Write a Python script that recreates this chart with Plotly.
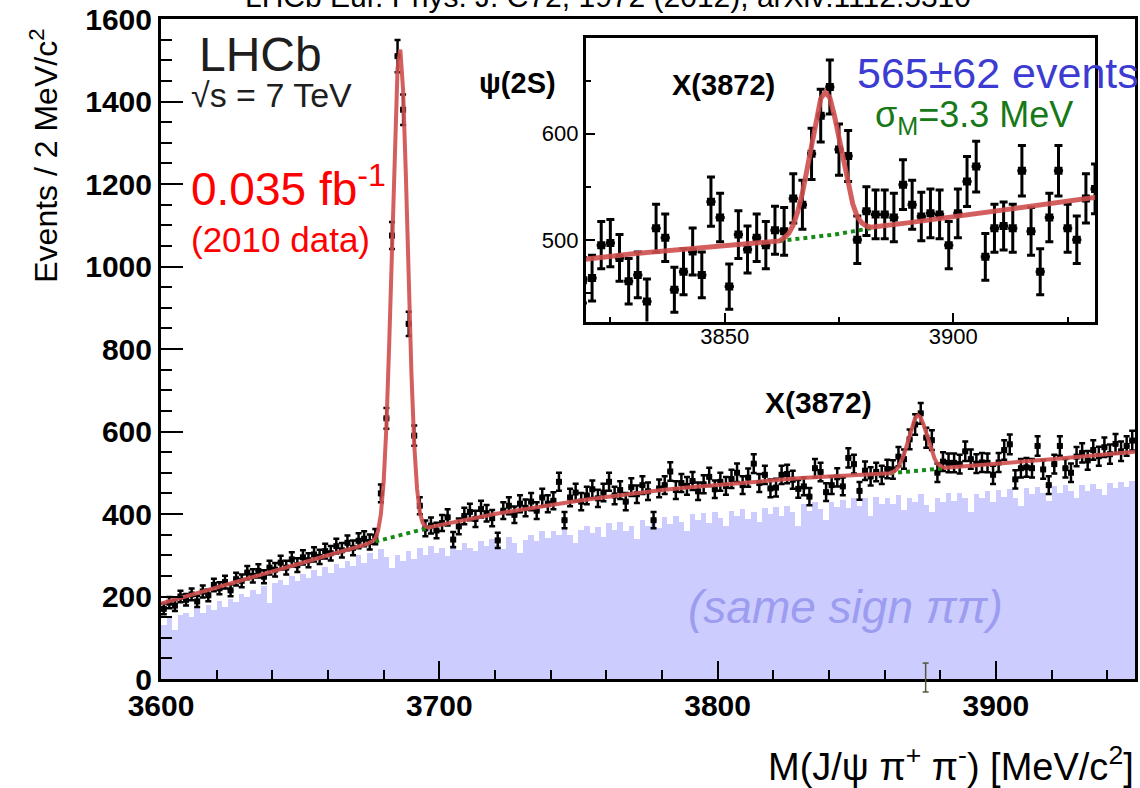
import numpy as np
import plotly.graph_objects as go

# ---------------- data ----------------
bin_centers = np.arange(3601, 3950, 2)  # 2 MeV bins, 3600-3950

data_counts = [
    170, 185, 178, 200, 192, 205, 188, 212, 203, 228, 220, 235, 215, 242, 238, 258, 250, 262, 248, 270,
    265, 282, 270, 290, 276, 295, 288, 302, 296, 310, 305, 322, 312, 330, 318, 335, 340, 332, 345,
    450, 632, 1075, 1510, 1380, 861, 590, 420, 365,
    372, 360, 378, 392, 338, 370, 395, 405, 388, 412, 402, 390, 336, 408, 420, 398, 425, 415, 430, 408,
    440, 425, 432, 478, 385, 440, 452, 430, 445, 460, 438, 452, 478, 445, 458, 430, 465, 448, 470, 455,
    385, 462, 470, 503, 458, 475, 468, 480, 455, 472, 490, 460, 478, 468, 485, 500, 470, 488, 522, 475,
    495, 462,
    464, 495, 497, 483, 461, 467, 442, 511, 502, 453, 470, 489, 467, 536, 521, 456, 505, 491, 502, 495,
    509, 508, 539, 533, 581, 617, 644, 585, 579, 500, 527, 524, 524, 521, 552, 533, 522, 525, 524, 495,
    525, 555, 569, 484, 511, 513, 511, 565, 508, 470, 521, 565, 511, 500, 539,
    548, 530, 555, 540, 562, 545, 570, 552, 565, 578,
]

same_sign_counts = [
    130, 148, 120, 155, 160, 150, 172, 160, 180, 168, 190, 175, 195, 186, 205, 198, 215, 205, 225, 185,
    232, 240, 228, 250, 238, 255, 245, 265, 250, 272, 258, 278, 268, 285, 275, 300, 282, 305, 290,
    315, 295, 270, 300, 285, 310, 292, 318, 300,
    322, 305, 318, 298, 325, 312, 330, 318, 310, 335, 322, 340, 325, 315, 345, 330, 305, 338, 350, 335,
    358, 342, 360, 348, 365, 350, 330, 362, 372, 355, 368, 345, 378, 362, 380, 360, 372, 340, 385, 370,
    388, 365, 392, 375, 395, 380, 358, 400, 385, 402, 378, 405, 390, 370, 408, 395, 412, 388, 405, 380,
    415, 400,
    418, 395, 420, 405, 372, 425, 408, 428, 412, 385, 430, 418, 435, 415, 438, 420, 440, 395, 442, 425,
    440, 425, 445, 410, 438, 428, 448, 422, 405, 440, 430, 450, 432, 452, 438, 405, 448, 440, 455, 430,
    458, 442, 460, 438, 420, 462, 448, 465, 450, 432, 468, 452, 470, 455, 440,
    470, 455, 472, 460, 445, 475, 462, 478, 465, 480,
]

fit_mass = [3600, 3610, 3620, 3630, 3640, 3650, 3660, 3670, 3674,
            3676, 3677, 3678, 3679, 3680, 3681, 3682, 3683, 3684, 3685, 3686, 3687, 3688, 3689, 3690,
            3691, 3692, 3693, 3694, 3695, 3696,
            3700, 3710, 3720, 3730, 3740, 3750, 3760, 3770, 3780, 3790, 3800, 3810, 3820, 3830, 3840,
            3850, 3860,
            3862, 3863, 3864, 3865, 3866, 3867, 3868, 3869, 3870, 3871, 3872, 3873, 3874, 3875, 3876,
            3877, 3878, 3879, 3880, 3881, 3882,
            3890, 3900, 3910, 3920, 3930, 3940, 3950]
fit_vals = [183, 202, 222, 241, 261, 280, 300, 319, 327,
            334, 341, 359, 399, 477, 612, 812, 1060, 1306, 1480, 1526, 1427, 1219, 968, 739,
            568, 462, 404, 379, 370, 367,
            373, 387, 400, 411, 422, 432, 441, 450, 458, 465, 471, 477, 482, 487, 491,
            495, 498,
            499, 502, 506, 514, 527, 544, 567, 591, 615, 633, 639, 634, 617, 595, 572,
            550, 534, 522, 516, 513, 512,
            516, 522, 528, 533, 539, 545, 551]

bkg_mass = [3677, 3681, 3685, 3689, 3693, 3697, None, 3862, 3866, 3870, 3874, 3878, 3882]
bkg_vals = [333, 340, 347, 354, 361, 368, None, 499, 501, 503, 505, 508, 511]

x_ticks_main = [3600, 3700, 3800, 3900]
y_ticks_main = [0, 200, 400, 600, 800, 1000, 1200, 1400, 1600]

counts = np.array(data_counts, dtype=float)
errs = np.sqrt(counts)

FONT = "Liberation Sans, Arial, Helvetica, sans-serif"
RED = "rgba(207,78,78,0.9)"
GREEN = "#168a16"

fig = go.Figure()

# same-sign histogram
fig.add_trace(go.Bar(x=bin_centers, y=same_sign_counts, width=2.0,
                     marker=dict(color="#ccccff", line=dict(width=0)),
                     xaxis="x", yaxis="y"))

# main data points
fig.add_trace(go.Scatter(x=bin_centers, y=counts, mode="markers",
                         marker=dict(symbol="square", size=6, color="black"),
                         error_y=dict(type="data", array=errs, thickness=2.5, width=3, color="black"),
                         error_x=dict(type="constant", value=1.0, thickness=2.5, width=0, color="black"),
                         xaxis="x", yaxis="y"))
fig.add_trace(go.Scatter(x=bkg_mass, y=bkg_vals, mode="lines",
                         line=dict(color=GREEN, width=4, dash="dot"), xaxis="x", yaxis="y"))
fig.add_trace(go.Scatter(x=fit_mass, y=fit_vals, mode="lines",
                         line=dict(color=RED, width=4), xaxis="x", yaxis="y"))

# inset
fig.add_trace(go.Scatter(x=bin_centers, y=counts, mode="markers",
                         marker=dict(symbol="square", size=8, color="black"),
                         error_y=dict(type="data", array=errs, thickness=3, width=4, color="black"),
                         error_x=dict(type="constant", value=1.0, thickness=3, width=0, color="black"),
                         xaxis="x2", yaxis="y2"))
fig.add_trace(go.Scatter(x=bkg_mass, y=bkg_vals, mode="lines",
                         line=dict(color=GREEN, width=4, dash="dot"), xaxis="x2", yaxis="y2"))
fig.add_trace(go.Scatter(x=fit_mass, y=fit_vals, mode="lines",
                         line=dict(color=RED, width=5), xaxis="x2", yaxis="y2"))

main_tickfont = dict(family=FONT, size=30, color="black", weight="bold")
inset_tickfont = dict(family=FONT, size=22, color="black")

fig.update_layout(
    width=1140, height=788,
    margin=dict(l=161, r=2, t=16, b=109),
    plot_bgcolor="white", paper_bgcolor="white",
    showlegend=False, bargap=0,
    xaxis=dict(domain=[0, 1], range=[3600, 3950], tickvals=x_ticks_main,
               ticks="inside", ticklen=18, tickwidth=2, tickcolor="black",
               minor=dict(dtick=20, tick0=3600, ticks="inside", ticklen=9, tickwidth=2, tickcolor="black"),
               showline=True, linewidth=3, linecolor="black", mirror=True,
               showgrid=False, zeroline=False, tickfont=main_tickfont, ticklabelstandoff=-2,
               ticklabeloverflow="allow"),
    yaxis=dict(domain=[0, 1], range=[0, 1600], tickvals=y_ticks_main,
               ticks="inside", ticklen=22, tickwidth=2, tickcolor="black",
               minor=dict(dtick=50, tick0=0, ticks="inside", ticklen=11, tickwidth=2, tickcolor="black"),
               showline=True, linewidth=3, linecolor="black", mirror=True,
               showgrid=False, zeroline=False, tickfont=main_tickfont, ticklabeloverflow="allow"),
    xaxis2=dict(domain=[0.436, 0.959], anchor="y2", range=[3819.6, 3931],
                tick0=3850, dtick=50, ticks="inside", ticklen=9, tickwidth=2, tickcolor="black",
                minor=dict(dtick=25, ticks="inside", ticklen=5, tickwidth=2, tickcolor="black"),
                showline=True, linewidth=2.5, linecolor="black", mirror=True,
                showgrid=False, zeroline=False, tickfont=inset_tickfont, ticklabelstandoff=-7),
    yaxis2=dict(domain=[0.5415, 0.971], anchor="x2", range=[423, 690],
                tick0=500, dtick=100, ticks="inside", ticklen=10, tickwidth=2, tickcolor="black",
                minor=dict(dtick=50, ticks="inside", ticklen=6, tickwidth=2, tickcolor="black"),
                showline=True, linewidth=2.5, linecolor="black", mirror=True,
                showgrid=False, zeroline=False, tickfont=inset_tickfont),
)


def px(xp):
    return (xp - 161) / 977.0


def py(yp):
    return (679 - yp) / 663.0


def ann(text, x, y, size, color="black", xanchor="left", yanchor="middle", angle=0, style="normal"):
    fig.add_annotation(text=text, xref="paper", yref="paper", x=px(x), y=py(y),
                       xanchor=xanchor, yanchor=yanchor, showarrow=False, textangle=angle,
                       font=dict(family=FONT, size=size, color=color, style=style), borderpad=0)


ann("LHCb Eur. Phys. J. C72, 1972 (2012), arXiv:1112.5310", 609, 11, 30, xanchor="center", yanchor="bottom")
ann("LHCb", 198, 52, 48, color="#1e1e1e")
ann("√s = 7 TeV", 190, 92, 34, color="#1e1e1e")
ann("0.035 fb<sup>-1</sup>", 190, 184, 46, color="#ff0000")
ann("(2010 data)", 190, 237, 35, color="#ff0000")
ann("<b>ψ(2S)</b>", 519, 80, 29, xanchor="center")
ann("<b>X(3872)</b>", 725, 82, 29, xanchor="center")
ann("565±62 events", 858, 70, 43, color="#3c3cd2")
ann("σ<sub>M</sub>=3.3 MeV", 876, 114, 36, color="#177817")
ann("<b>X(3872)</b>", 821, 401, 30, xanchor="center")
ann("(same sign ππ)", 689, 607, 46, color="#9c9cf0", style="italic")
ann("Events / 2 MeV/c<sup>2</sup>", 44, 153, 32, xanchor="center", angle=-90)
ann("M(J/ψ π<sup>+</sup> π<sup>-</sup>) [MeV/c<sup>2</sup>]", 1138, 764, 38, xanchor="right")

# I-beam cursor captured in the screenshot
cur_x = px(928)
fig.add_shape(type="line", xref="paper", yref="paper", x0=cur_x, x1=cur_x, y0=py(692), y1=py(663),
              line=dict(color="#55553a", width=1.5))
for yy in (663, 692):
    fig.add_shape(type="line", xref="paper", yref="paper", x0=px(925), x1=px(931), y0=py(yy), y1=py(yy),
                  line=dict(color="#55553a", width=1.5))

fig.write_html("out.html")
